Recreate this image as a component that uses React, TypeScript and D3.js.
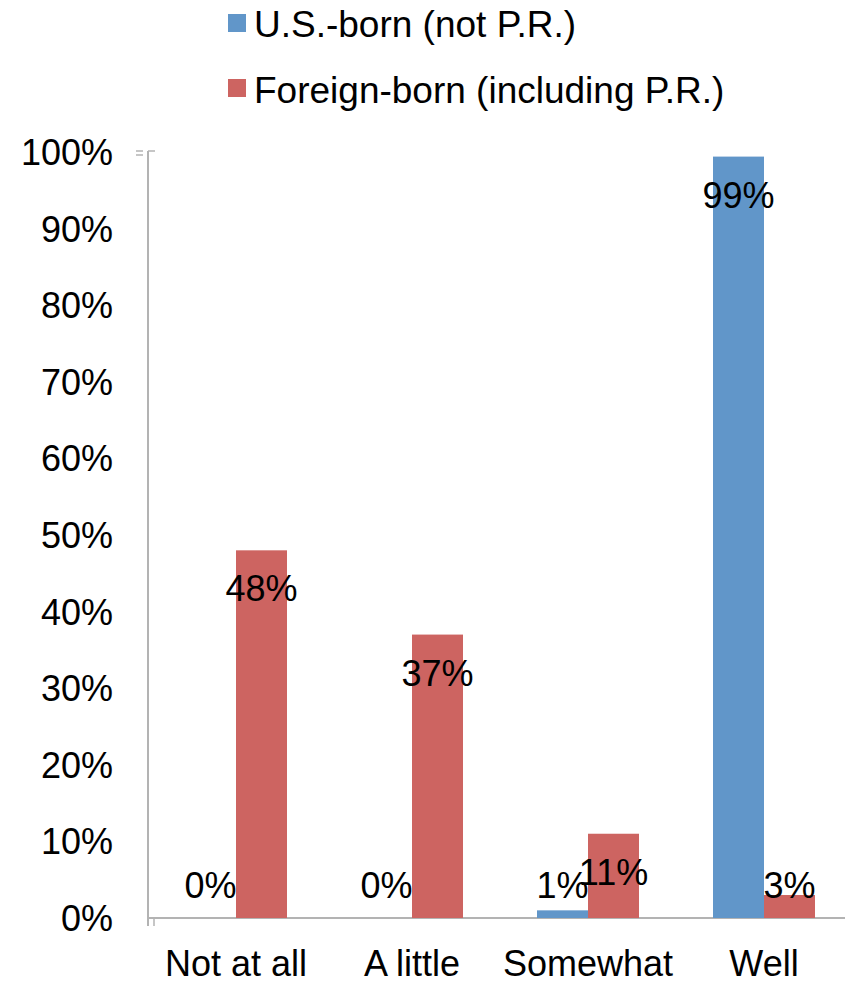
import React from "react";
import * as d3 from "d3";

const categories = ["Not at all", "A little", "Somewhat", "Well"];
const seriesNames = ["U.S.-born (not P.R.)", "Foreign-born (including P.R.)"];
const usBorn = [0, 0, 1, 99.4];
const foreignBorn = [48, 37, 11, 3];
const yTicks = [0, 10, 20, 30, 40, 50, 60, 70, 80, 90, 100];
const colors = ["#6196c9", "#cd6461"];

const W = 845;
const H = 983;
const FONT = "'Liberation Sans', Arial, sans-serif";

export default function App() {
  const x0 = d3.scaleBand<string>().domain(categories).range([148, 852]).padding(0);
  const groupW = 102;
  const x1 = d3.scaleBand<number>().domain([0, 1]).range([0, groupW]).padding(0);
  const y = d3.scaleLinear().domain([0, 100]).range([918, 152]);
  const series = [usBorn, foreignBorn];
  const axisColor = "#b3b3b3";
  const baseY = y(0);

  return (
    <svg
      width={W}
      height={H}
      style={{ position: "absolute", left: 0, top: 0, background: "#fff" }}
      fontFamily={FONT}
    >
      {/* legend */}
      {seriesNames.map((n, i) => (
        <g key={n}>
          <rect x={228} y={14 + i * 65} width={18} height={18} fill={colors[i]} />
          <text x={254} y={37 + i * 66} fontSize={37} fill="#000">
            {n}
          </text>
        </g>
      ))}

      {/* y tick labels */}
      {yTicks.map((t) => (
        <text key={t} x={113} y={y(t) + 13} fontSize={36} textAnchor="end" fill="#000">
          {t}%
        </text>
      ))}

      {/* axes */}
      <line x1={148} x2={148} y1={y(100) - 1} y2={926} stroke={axisColor} strokeWidth={2} />
      <line x1={154} x2={154} y1={baseY} y2={926} stroke={axisColor} strokeWidth={1.5} />
      <line x1={136} x2={143} y1={y(100) - 1} y2={y(100) - 1} stroke={axisColor} strokeWidth={1.5} />
      <line x1={136} x2={143} y1={y(100) + 3} y2={y(100) + 3} stroke={axisColor} strokeWidth={1.5} />
      <line x1={148} x2={155} y1={y(100) - 1} y2={y(100) - 1} stroke={axisColor} strokeWidth={1.5} />
      <line x1={148} x2={W} y1={baseY} y2={baseY} stroke={axisColor} strokeWidth={2} />

      {/* bars */}
      {categories.map((c, ci) => {
        const gx = (x0(c) as number) + (x0.bandwidth() - groupW) / 2;
        return (
          <g key={c}>
            {series.map((s, si) => {
              const v = s[ci];
              const top = y(v);
              return (
                <rect
                  key={si}
                  x={gx + (x1(si) as number)}
                  y={top}
                  width={x1.bandwidth()}
                  height={baseY - top}
                  fill={colors[si]}
                />
              );
            })}
          </g>
        );
      })}

      {/* data labels */}
      {categories.map((c, ci) => {
        const gx = (x0(c) as number) + (x0.bandwidth() - groupW) / 2;
        return series.map((s, si) => {
          const v = s[ci];
          const top = y(v);
          const cy = Math.min(top + 38, baseY - 33);
          return (
            <text
              key={c + si}
              x={gx + (x1(si) as number) + x1.bandwidth() / 2}
              y={cy + 13}
              fontSize={36}
              textAnchor="middle"
              fill="#000"
            >
              {Math.round(v)}%
            </text>
          );
        });
      })}

      {/* x labels */}
      {categories.map((c) => (
        <text
          key={c}
          x={(x0(c) as number) + x0.bandwidth() / 2}
          y={976}
          fontSize={36}
          textAnchor="middle"
          fill="#000"
        >
          {c}
        </text>
      ))}
    </svg>
  );
}
